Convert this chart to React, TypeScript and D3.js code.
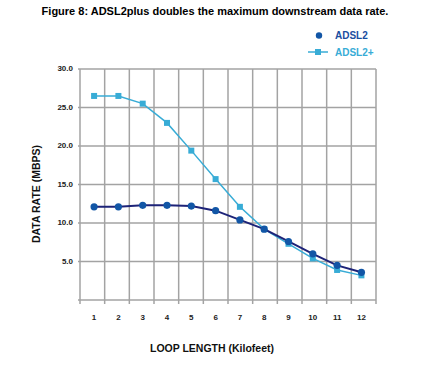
import React from "react";
import * as d3 from "d3";

// loop length in kilofeet
const loopLengths = [1, 2, 3, 4, 5, 6, 7, 8, 9, 10, 11, 12];
// downstream data rate (Mbps)
const adsl2 = [12.1, 12.1, 12.3, 12.3, 12.2, 11.6, 10.4, 9.2, 7.6, 6.0, 4.5, 3.6];
const adsl2plus = [26.5, 26.5, 25.5, 23.0, 19.4, 15.7, 12.1, 9.2, 7.3, 5.4, 3.9, 3.2];
const yTicks = [5, 10, 15, 20, 25, 30];

const W = 422,
  H = 373;
const left = 80,
  right = 376,
  top = 69,
  bottom = 300;

const darkLine = "#1d2378";
const darkDot = "#1256a6";
const light = "#38acd6";
const grid = "#a3a3a3";
const labelFont = "'Liberation Sans', Arial, sans-serif";

const App = () => {
  const x = d3.scaleLinear().domain([0.42, 12.6]).range([left, right]);
  const y = d3.scaleLinear().domain([0, 30]).range([bottom, top]);

  // 13 evenly spaced vertical grid lines across the plot
  const vGrid = d3.range(13).map((k) => left + (k * (right - left)) / 12);

  const line = d3
    .line<number>()
    .x((d, i) => x(loopLengths[i]))
    .y((d) => y(d));

  return (
    <svg
      width={W}
      height={H}
      style={{ position: "absolute", left: 0, top: 0, background: "#fff" }}
    >
      <text
        x={215}
        y={15}
        textAnchor="middle"
        fontFamily={labelFont}
        fontWeight="bold"
        fontSize={11}
        fill="#000"
      >
        Figure 8: ADSL2plus doubles the maximum downstream data rate.
      </text>

      {/* legend */}
      <circle cx={319} cy={35.5} r={3.2} fill={darkDot} />
      <text x={335} y={39} fontFamily={labelFont} fontWeight="bold" fontSize={10} fill="#1a4ea0">
        ADSL2
      </text>
      <line x1={308} x2={328} y1={52} y2={52} stroke={light} strokeWidth={1.5} />
      <rect x={315} y={49} width={6} height={6} fill={light} />
      <text x={335} y={55.5} fontFamily={labelFont} fontWeight="bold" fontSize={10} fill={light}>
        ADSL2+
      </text>

      {/* grid */}
      <g stroke={grid} strokeWidth={1.5}>
        {yTicks.map((t) => (
          <line key={"h" + t} x1={left - 2} x2={right} y1={y(t)} y2={y(t)} />
        ))}
        <line x1={left - 2} x2={right} y1={bottom} y2={bottom} />
        {vGrid.map((gx, i) => (
          <line key={"v" + i} x1={gx} x2={gx} y1={top} y2={bottom + 4} />
        ))}
      </g>

      {/* y tick labels */}
      {yTicks.map((t) => (
        <text
          key={"yl" + t}
          x={73}
          y={y(t) + 2}
          textAnchor="end"
          fontFamily={labelFont}
          fontWeight="bold"
          fontSize={8}
          fill="#222"
        >
          {t.toFixed(1)}
        </text>
      ))}

      {/* x tick labels */}
      {loopLengths.map((d) => (
        <text
          key={"xl" + d}
          x={x(d)}
          y={320}
          textAnchor="middle"
          fontFamily={labelFont}
          fontWeight="bold"
          fontSize={8}
          fill="#222"
        >
          {d}
        </text>
      ))}

      <text
        x={212}
        y={352}
        textAnchor="middle"
        fontFamily={labelFont}
        fontWeight="bold"
        fontSize={10.5}
        fill="#111"
      >
        LOOP LENGTH (Kilofeet)
      </text>
      <text
        transform={`translate(40,194) rotate(-90)`}
        textAnchor="middle"
        fontFamily={labelFont}
        fontWeight="bold"
        fontSize={10.5}
        fill="#111"
      >
        DATA RATE (MBPS)
      </text>

      {/* ADSL2+ series */}
      <path d={line(adsl2plus) || ""} fill="none" stroke={light} strokeWidth={1.5} />
      {adsl2plus.map((v, i) => (
        <rect
          key={"s" + i}
          x={x(loopLengths[i]) - 3}
          y={y(v) - 3}
          width={6}
          height={6}
          fill={light}
        />
      ))}

      {/* ADSL2 series */}
      <path d={line(adsl2) || ""} fill="none" stroke={darkLine} strokeWidth={2} />
      {adsl2.map((v, i) => (
        <circle key={"c" + i} cx={x(loopLengths[i])} cy={y(v)} r={3.6} fill={darkDot} />
      ))}
    </svg>
  );
};

export default App;
